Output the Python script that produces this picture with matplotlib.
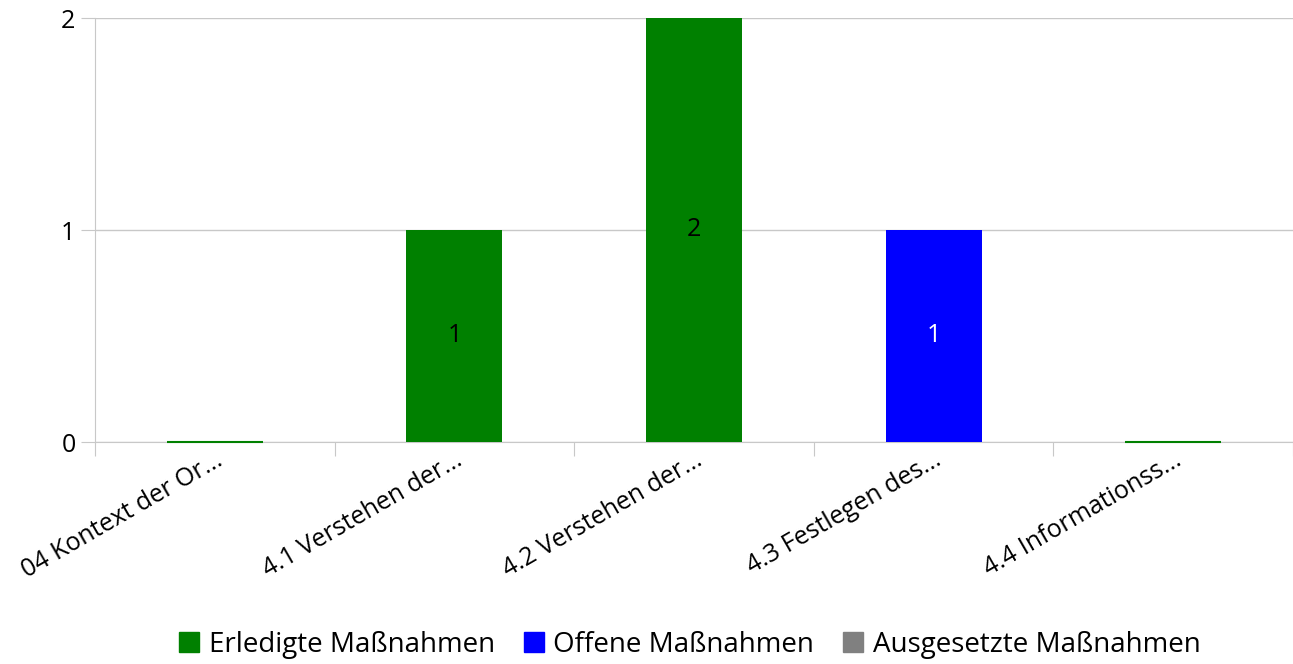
import matplotlib.pyplot as plt
import numpy as np
from matplotlib.lines import Line2D

plt.rcParams['font.family'] = ['Open Sans', 'DejaVu Sans']

categories = ['04 Kontext der Or...', '4.1 Verstehen der...', '4.2 Verstehen der...',
              '4.3 Festlegen des...', '4.4 Informationss...']
erledigt = [0, 1, 2, 0, 0]
offen = [0, 0, 0, 1, 0]
ausgesetzt = [0, 0, 0, 0, 0]
series_names = ['Erledigte Maßnahmen', 'Offene Maßnahmen', 'Ausgesetzte Maßnahmen']
colors = ['#008000', '#0000ff', '#808080']
label_colors = ['black', 'white', 'black']
grid_col = '#c8c8c8'

fig = plt.figure(figsize=(12.93, 6.64), dpi=100)
ax = fig.add_axes([95 / 1293, 1 - 442 / 664, 1 - 95 / 1293, (442 - 18) / 664])

x = np.arange(len(categories)) + 0.5
bottom = np.zeros(len(categories))
for vals, c, lc in zip([erledigt, offen, ausgesetzt], colors, label_colors):
    vals = np.array(vals, dtype=float)
    ax.bar(x, vals, width=0.4, bottom=bottom, color=c, linewidth=0, zorder=3)
    for xi, v, b in zip(x, vals, bottom):
        if v > 0:
            ax.text(xi, b + v / 2, f'{int(v)}', ha='center', va='center',
                    color=lc, fontsize=18, zorder=4)
    bottom += vals

# empty categories get a thin line in the first series colour
for xi, total in zip(x, bottom):
    if total == 0:
        ax.hlines(0, xi - 0.2, xi + 0.2, color=colors[0], linewidth=1.5,
                  zorder=5, clip_on=False)

ax.set_xlim(0, 5)
ax.set_ylim(0, 2)
ax.set_yticks([0, 1, 2])
ax.yaxis.grid(True, color=grid_col, linewidth=1, zorder=0)
ax.tick_params(axis='y', length=10, color=grid_col, labelsize=18, pad=4)

ax.set_xticks(np.arange(0, 6))
ax.set_xticklabels([])
ax.set_xticks(x, minor=True)
ax.set_xticklabels(categories, minor=True, rotation=30, ha='right',
                   rotation_mode='anchor', fontsize=18)
ax.tick_params(axis='x', which='major', length=10, color=grid_col)
ax.tick_params(axis='x', which='minor', length=0, pad=4)

for s in ['top', 'right']:
    ax.spines[s].set_visible(False)
for s in ['left', 'bottom']:
    ax.spines[s].set_color(grid_col)

handles = [Line2D([], [], marker='s', linestyle='none', markersize=14,
                  markerfacecolor=c, markeredgecolor=c) for c in colors]
fig.legend(handles, series_names, loc='center', bbox_to_anchor=(0.532, 1 - 645 / 664),
           ncol=3, frameon=False, fontsize=20, handletextpad=0.2, columnspacing=0.9,
           handlelength=1.0)

fig.savefig('out.png', dpi=100)
